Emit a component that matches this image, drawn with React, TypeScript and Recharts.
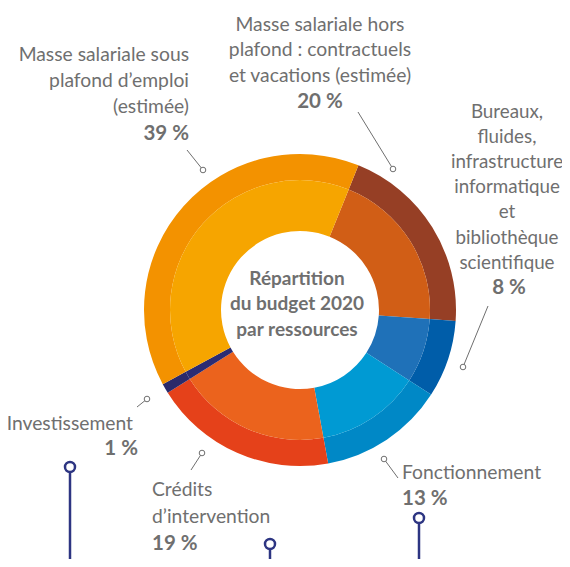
import { PieChart, Pie, Cell } from "recharts";

// ordre horaire, en partant du haut (masse salariale hors plafond)
const CATEGORIES = [
  "Masse salariale hors plafond : contractuels et vacations (estimée)",
  "Bureaux, fluides, infrastructure informatique et bibliothèque scientifique",
  "Fonctionnement",
  "Crédits d’intervention",
  "Investissement",
  "Masse salariale sous plafond d’emploi (estimée)",
];
const SHARES = [20, 8, 13, 19, 1, 39];
const OUTER_COLORS = ["#963F25", "#005DA9", "#0088C6", "#E5411A", "#2B2A6B", "#F39200"];
const INNER_COLORS = ["#D15E16", "#1F71B8", "#009AD3", "#EB631D", "#2B2C73", "#F6A500"];

const LABEL_LINES = [
  ["Masse salariale hors", "plafond : contractuels", "et vacations (estimée)"],
  ["Bureaux,", "fluides,", "infrastructure", "informatique", "et", "bibliothèque", "scientifique"],
  ["Fonctionnement"],
  ["Crédits", "d’intervention"],
  ["Investissement"],
  ["Masse salariale sous", "plafond d’emploi", "(estimée)"],
];
const CENTER_TITLE = ["Répartition", "du budget 2020", "par ressources"];

const GREY = "#6F6F6F";
const NAVY = "#2D3582";
const FONT = "Lato, 'Open Sans', sans-serif";

// mise en page des étiquettes : x du texte, x du pourcentage, y de la première ligne, ancrage, pas
const LABEL_LAYOUT = [
  { x: 320, px: 320, y: 23, anchor: "middle", step: 25.7, size: 19.3 },
  { x: 507, px: 509, y: 110, anchor: "middle", step: 25.2, size: 18.8 },
  { x: 402, px: 402, y: 471, anchor: "start", step: 26, size: 19.3 },
  { x: 152, px: 152, y: 488, anchor: "start", step: 27, size: 19.3 },
  { x: 133, px: 138, y: 422, anchor: "end", step: 25, size: 19.3 },
  { x: 189, px: 189, y: 53, anchor: "end", step: 26.3, size: 19.3 },
];
const LEADERS = [
  [358, 112, 393, 169],
  [488, 306, 463, 367],
  [398, 478, 384, 459],
  [191, 470, 202, 453],
  [137, 407, 147, 399],
  [187, 150, 203, 170],
];
const PINS = [
  [70, 467],
  [270, 544],
  [419, 518],
];

const data = CATEGORIES.map((name, i) => ({ name, value: SHARES[i] }));

export default function App() {
  return (
    <div style={{ position: "relative", width: 570, height: 567, margin: -8, background: "#fff" }}>
      <PieChart width={570} height={567} margin={{ top: 0, right: 0, bottom: 0, left: 0 }}>
        <Pie
          data={data}
          dataKey="value"
          nameKey="name"
          cx={300}
          cy={310}
          innerRadius={130}
          outerRadius={156}
          startAngle={68}
          endAngle={-292}
          stroke="none"
          isAnimationActive={false}
        >
          {data.map((d, i) => (
            <Cell key={d.name} fill={OUTER_COLORS[i]} />
          ))}
        </Pie>
        <Pie
          data={data}
          dataKey="value"
          nameKey="name"
          cx={300}
          cy={310}
          innerRadius={79}
          outerRadius={130}
          startAngle={68}
          endAngle={-292}
          stroke="none"
          isAnimationActive={false}
        >
          {data.map((d, i) => (
            <Cell key={d.name} fill={INNER_COLORS[i]} />
          ))}
        </Pie>
      </PieChart>
      <svg
        width={570}
        height={567}
        style={{ position: "absolute", left: 0, top: 0, pointerEvents: "none" }}
        fontFamily={FONT}
      >
        {CENTER_TITLE.map((t, i) => (
          <text
            key={t}
            x={297}
            y={277 + i * 25.5}
            textAnchor="middle"
            dominantBaseline="central"
            fontSize={19}
            fontWeight={700}
            fill={GREY}
          >
            {t}
          </text>
        ))}
        {LABEL_LINES.map((lines, i) => {
          const l = LABEL_LAYOUT[i];
          return (
            <g key={i} fill={GREY} textAnchor={l.anchor as any}>
              {lines.map((t, j) => (
                <text key={j} x={l.x} y={l.y + j * l.step} dominantBaseline="central" fontSize={l.size}>
                  {t}
                </text>
              ))}
              <text
                x={l.px}
                y={l.y + lines.length * l.step}
                dominantBaseline="central"
                fontSize={20.5}
                fontWeight={700}
              >
                {SHARES[i] + " %"}
              </text>
            </g>
          );
        })}
        {LEADERS.map(([x1, y1, x2, y2], i) => (
          <g key={i}>
            <line x1={x1} y1={y1} x2={x2} y2={y2} stroke={GREY} strokeWidth={1} />
            <circle cx={x2} cy={y2} r={2.8} fill="#fff" stroke={GREY} strokeWidth={1} />
          </g>
        ))}
        {PINS.map(([x, y], i) => (
          <g key={i}>
            <line x1={x} y1={y + 5} x2={x} y2={567} stroke={NAVY} strokeWidth={2.5} />
            <circle cx={x} cy={y} r={5} fill="#fff" stroke={NAVY} strokeWidth={2.5} />
          </g>
        ))}
      </svg>
    </div>
  );
}
